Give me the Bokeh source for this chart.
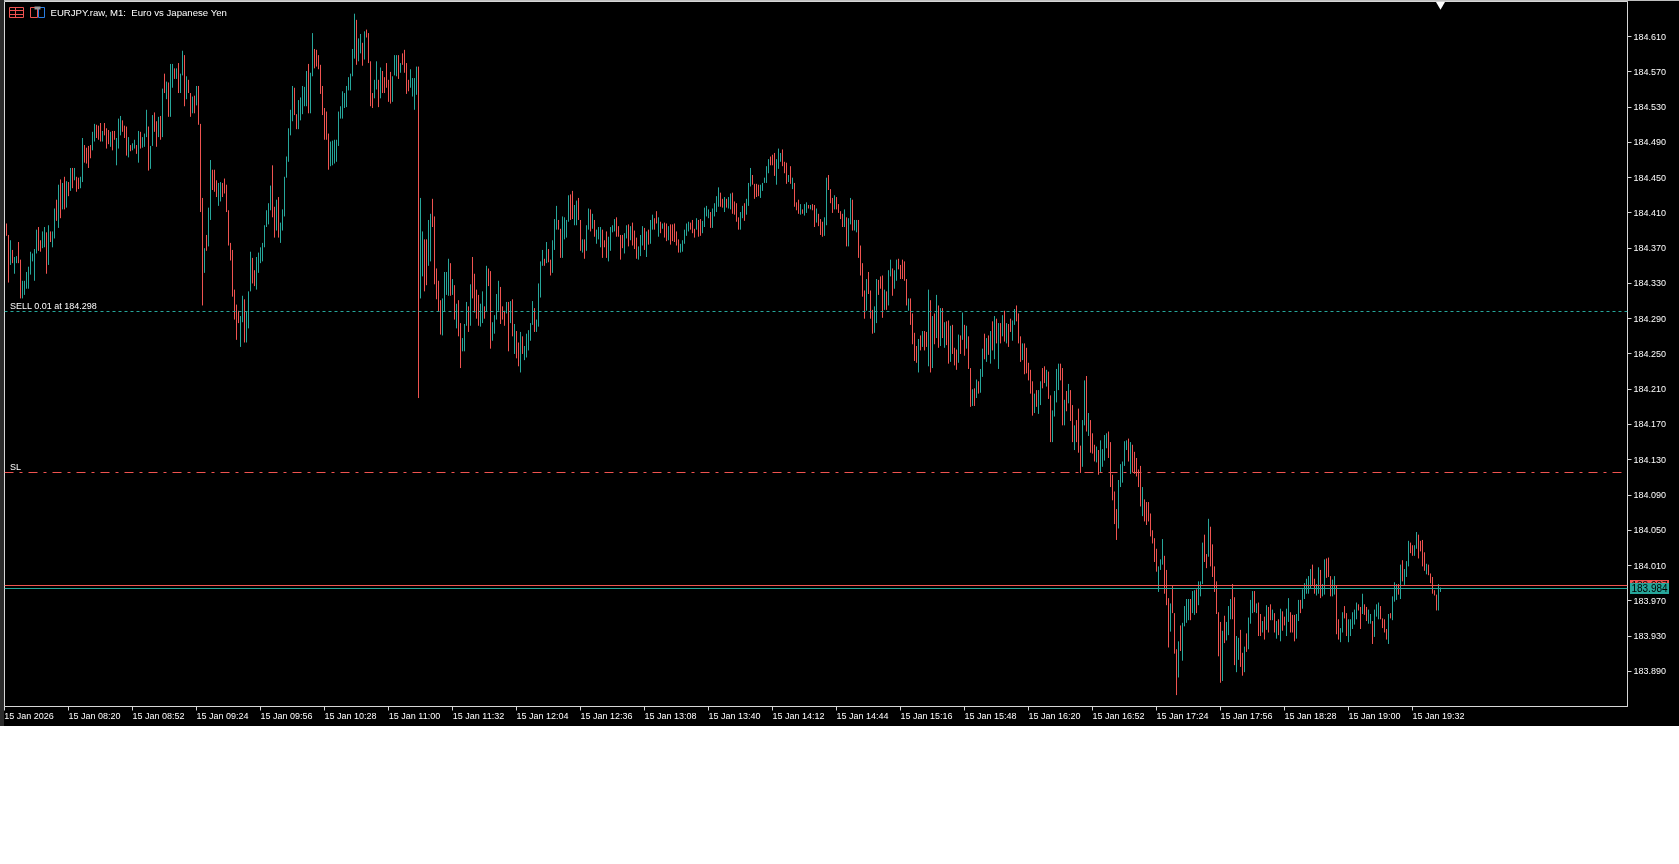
import math
from bokeh.plotting import figure
from bokeh.layouts import column
from bokeh.models import Range1d, FixedTicker, Label, Span, LinearAxis, Div
from bokeh.embed import file_html
from bokeh.resources import INLINE

# values are points above 183.000 (1 point = 0.001)
high_pts = [
1398,1385,1379,1368,1360,1361,1377,1357,1333,1333,
1343,1349,1366,1364,1369,1391,1394,1379,1389,1394,
1388,1396,1389,1389,1415,1425,1442,1448,1444,1451,
1446,1445,1461,1461,1461,1451,1450,1451,1495,1487,
1484,1486,1487,1502,1511,1510,1509,1512,1503,1512,
1506,1504,1502,1503,1503,1495,1517,1520,1515,1509,
1508,1496,1487,1489,1493,1487,1503,1502,1496,1500,
1527,1508,1486,1521,1524,1514,1519,1520,1551,1568,
1559,1558,1579,1579,1574,1574,1580,1568,1594,1589,
1565,1561,1546,1542,1543,1554,1554,1511,1427,1370,
1385,1416,1470,1459,1459,1447,1444,1445,1444,1449,
1442,1413,1376,1368,1323,1306,1299,1293,1316,1312,
1298,1321,1366,1359,1345,1360,1365,1371,1376,1396,
1413,1421,1441,1464,1417,1425,1428,1399,1414,1451,
1474,1506,1527,1554,1552,1522,1538,1541,1554,1553,
1571,1579,1569,1614,1596,1595,1589,1578,1554,1529,
1525,1500,1491,1492,1493,1493,1525,1531,1548,1546,
1554,1564,1568,1596,1636,1629,1608,1613,1603,1616,
1618,1614,1582,1546,1561,1582,1561,1575,1571,1564,
1580,1561,1570,1565,1589,1589,1589,1580,1591,1595,
1580,1561,1573,1563,1563,1576,1576,1427,1389,1380,
1380,1402,1409,1426,1406,1347,1333,1311,1313,1343,
1343,1358,1353,1335,1328,1307,1311,1285,1268,1284,
1309,1304,1329,1360,1341,1323,1317,1307,1321,1304,
1350,1347,1344,1286,1294,1318,1333,1326,1304,1299,
1309,1309,1310,1312,1284,1276,1263,1275,1270,1259,
1273,1277,1285,1310,1302,1289,1330,1355,1368,1358,
1377,1369,1357,1379,1403,1418,1402,1392,1406,1405,
1402,1430,1431,1435,1419,1424,1427,1402,1380,1380,
1396,1415,1414,1409,1402,1391,1394,1394,1391,1379,
1389,1383,1394,1396,1403,1405,1395,1385,1385,1387,
1396,1397,1395,1399,1390,1382,1372,1385,1395,1393,
1389,1391,1402,1408,1404,1412,1405,1400,1398,1399,
1398,1395,1397,1397,1398,1389,1380,1375,1379,1391,
1398,1400,1399,1402,1392,1404,1402,1403,1401,1416,
1418,1414,1411,1415,1421,1429,1439,1433,1426,1428,
1426,1428,1432,1433,1423,1421,1405,1411,1418,1421,
1426,1444,1461,1453,1443,1443,1442,1442,1444,1450,
1463,1471,1474,1476,1478,1471,1483,1478,1482,1468,
1467,1453,1463,1450,1444,1422,1425,1420,1414,1420,
1422,1419,1419,1420,1419,1415,1409,1403,1400,1405,
1450,1453,1437,1427,1430,1428,1420,1412,1409,1414,
1405,1404,1427,1425,1402,1402,1402,1373,1353,1322,
1335,1343,1322,1300,1304,1335,1334,1338,1339,1323,
1321,1345,1357,1347,1345,1357,1358,1351,1357,1355,
1335,1313,1313,1296,1274,1259,1267,1271,1276,1276,
1275,1323,1311,1293,1296,1317,1305,1302,1302,1286,
1287,1288,1282,1283,1257,1255,1272,1271,1297,1283,
1282,1270,1234,1210,1211,1221,1219,1233,1256,1273,
1268,1271,1276,1287,1293,1290,1285,1285,1294,1299,
1285,1284,1290,1288,1301,1305,1296,1270,1262,1262,
1257,1240,1232,1219,1205,1209,1209,1219,1234,1236,
1232,1230,1203,1186,1208,1233,1239,1239,1234,1198,
1208,1216,1209,1192,1169,1175,1188,1146,1175,1220,
1225,1183,1175,1160,1147,1145,1141,1152,1142,1158,
1160,1162,1150,1113,1094,1074,1107,1125,1128,1151,
1152,1154,1150,1147,1139,1132,1119,1123,1099,1085,
1082,1082,1069,1050,1041,1029,1009,1017,1040,1021,
1005,973,967,987,956,915,924,942,945,964,
972,972,972,981,982,983,992,992,1036,1045,
1023,1063,1054,1034,1009,992,957,946,936,953,
946,964,972,989,974,930,928,937,911,918,
933,951,971,981,981,967,968,955,947,952,
965,963,966,960,956,947,949,961,958,952,
961,973,957,954,954,955,971,971,983,990,
995,998,1006,1011,995,989,1008,1005,989,1017,
1018,1019,998,994,998,987,949,939,957,964,
956,949,949,957,960,968,966,963,978,966,
963,960,955,947,960,966,968,964,950,949,
938,955,956,975,991,989,989,1011,1016,1006,
1015,1038,1036,1033,1033,1048,1045,1038,1039,1025,
1012,1011,1001,997,982,977,989,985,
]
low_pts = [
1384,1331,1351,1353,1341,1353,1353,1313,1313,1317,
1324,1324,1340,1355,1333,1364,1367,1366,1370,1371,
1341,1351,1377,1371,1381,1401,1393,1404,1414,1414,
1416,1429,1435,1438,1447,1434,1437,1438,1445,1467,
1466,1461,1472,1481,1491,1495,1493,1491,1491,1498,
1483,1488,1485,1481,1493,1464,1483,1498,1502,1495,
1475,1473,1480,1481,1483,1477,1467,1483,1484,1485,
1496,1458,1460,1486,1502,1485,1496,1493,1496,1546,
1539,1519,1519,1552,1562,1562,1546,1546,1566,1531,
1539,1546,1519,1523,1523,1532,1510,1411,1305,1342,
1367,1372,1402,1436,1434,1428,1418,1423,1428,1432,
1411,1373,1356,1315,1289,1266,1285,1258,1286,1263,
1263,1279,1321,1330,1327,1323,1342,1353,1355,1371,
1394,1397,1413,1405,1382,1390,1382,1376,1390,1406,
1450,1468,1498,1514,1521,1505,1505,1515,1522,1531,
1531,1523,1523,1565,1574,1576,1573,1545,1521,1493,
1493,1459,1463,1464,1466,1468,1486,1517,1517,1529,
1530,1549,1549,1565,1585,1578,1582,1591,1577,1584,
1609,1580,1531,1529,1540,1550,1530,1540,1546,1546,
1552,1536,1534,1536,1566,1565,1562,1569,1578,1569,
1545,1548,1552,1542,1527,1544,1200,1313,1338,1321,
1328,1350,1355,1394,1329,1312,1298,1272,1271,1298,
1317,1316,1316,1317,1289,1279,1270,1234,1253,1253,
1282,1275,1282,1313,1297,1290,1282,1281,1285,1290,
1298,1327,1256,1265,1273,1289,1299,1284,1289,1282,
1296,1253,1285,1270,1250,1245,1236,1229,1250,1243,
1246,1254,1265,1283,1275,1275,1281,1314,1350,1350,
1353,1354,1339,1342,1368,1391,1391,1359,1359,1380,
1382,1400,1402,1403,1396,1396,1402,1367,1365,1358,
1367,1391,1389,1392,1383,1375,1380,1371,1359,1371,
1359,1355,1367,1388,1389,1383,1383,1357,1370,1364,
1381,1372,1379,1373,1369,1358,1357,1361,1373,1368,
1360,1374,1375,1391,1391,1398,1383,1387,1392,1382,
1378,1379,1374,1378,1377,1373,1365,1365,1366,1375,
1384,1389,1391,1387,1382,1391,1383,1384,1387,1394,
1406,1404,1393,1393,1406,1411,1417,1417,1416,1411,
1416,1415,1414,1409,1408,1400,1391,1391,1404,1401,
1408,1418,1440,1442,1426,1428,1429,1427,1435,1444,
1444,1455,1464,1464,1452,1442,1460,1468,1463,1455,
1443,1445,1443,1437,1417,1413,1409,1408,1409,1407,
1410,1415,1414,1413,1394,1399,1395,1385,1383,1384,
1396,1436,1421,1410,1414,1414,1410,1403,1394,1394,
1372,1372,1397,1390,1390,1388,1359,1339,1315,1290,
1299,1318,1290,1273,1274,1285,1317,1324,1291,1300,
1300,1305,1338,1316,1324,1333,1346,1335,1335,1333,
1305,1299,1283,1261,1242,1240,1229,1254,1258,1254,
1258,1236,1229,1234,1261,1268,1257,1259,1268,1257,
1260,1239,1241,1250,1237,1232,1240,1250,1266,1248,
1256,1233,1190,1191,1191,1200,1205,1206,1224,1244,
1241,1249,1239,1254,1244,1262,1233,1262,1270,1264,
1262,1258,1275,1265,1283,1287,1262,1241,1243,1227,
1228,1220,1205,1180,1183,1190,1182,1192,1211,1217,
1213,1199,1150,1150,1179,1195,1209,1220,1169,1169,
1185,1194,1174,1150,1141,1150,1138,1115,1122,1169,
1162,1157,1138,1137,1128,1127,1113,1115,1122,1129,
1143,1132,1099,1084,1057,1039,1052,1099,1104,1123,
1141,1128,1114,1116,1114,1111,1099,1077,1066,1060,
1056,1060,1043,1035,1014,1003,980,1005,1011,978,
965,917,935,956,910,863,883,913,902,941,
945,948,948,956,954,956,965,975,989,1014,
1007,1020,1009,997,980,955,907,877,879,922,
925,931,949,949,897,889,903,895,885,889,
912,915,944,956,957,956,930,930,934,926,
937,934,948,948,934,927,931,924,936,942,
930,946,934,934,924,927,947,956,961,972,
978,978,984,988,978,976,978,973,975,977,
996,997,975,975,977,932,926,923,934,950,
930,923,930,938,943,949,959,938,955,954,
947,944,944,921,929,952,949,949,939,934,
926,921,950,948,969,971,977,972,992,988,
997,1009,1024,1021,1021,1029,1018,1026,1009,1004,
1000,999,990,978,976,959,959,980,
]
directions = """
d d u d u u d d u u
u u u u u u d d u u
d u d u u d u d u d
u d u d u d d u u d
d d d u u d d d u d
d d u d d u u u d d
d u d u u d u d u u
u d u u d d u d u d
u d u u d u d u u d
u d d u d u d d d u
d u u d d d u u d d
d d d d d d d u u d
u u u d d u u u u u
u u u d d u d u u u
u u u u d d u u u u
u d u u d d d d d d
d d u u u u u u u u
u u u u u d u u d u
d d d d u u d u d d
d d d u u u d u d d
d d u u u u d u u d
d u u d d d d d u u
u u d u d u d d u u
u d u d d d d u u d
u d d u u u u d d d
u d u d u d d u d u
u u u u d u u u u d
u d d u u u d d u u
u u d d u u d d u d
u u d u d u u u d d
d u u u u d d d d u
u d u d d d u u u d
u d u u d d u d u d
d u d d d d d u u u
u u d d d u d d u u
u u d u u u u d d u
d u u d d d d u u d
u u u d d d d u u u
u u d d d u u u d d
d u d u d d d u d u
u d u d d u d d d u
u d d d u d d d d u
d u u d u u d d d d
u d d d u u d d d u
d u u d u u d d d d
d u d d d d u d u d
d u d u d u d u d u
d d u d d d u d u d
u d d u d u d u u d
u d u d u d u d u d
u d d u u d d d u d
d d d d u d u u d d
u d d u u u u d d u
d u d d u d d d u u
d u d d d u d u u u
u d d d d d u u u u
u d u d d d d d u d
d d d d d d u u u d
d d u d d d u d u u
u u d u u d u u u d
d u d d d d d d u d
u u u d d u u d d u
d u u u d u d d u d
u d d u d u d u d d
u u d d d u u d u u
u u u d d u u d u u
d d d u u d d u u d
d u u u u u d d u d
d u u d u u u d d d
d u d u u u d u d u
u u d d u u d d d d
u d d d d d u u
""".split()

price_ticks = [183.89, 183.93, 183.97, 184.01, 184.05, 184.09, 184.13, 184.17, 184.21, 184.25,
               184.29, 184.33, 184.37, 184.41, 184.45, 184.49, 184.53, 184.57, 184.61]
time_labels = ["15 Jan 2026", "15 Jan 08:20", "15 Jan 08:52", "15 Jan 09:24", "15 Jan 09:56", "15 Jan 10:28",
               "15 Jan 11:00", "15 Jan 11:32", "15 Jan 12:04", "15 Jan 12:36", "15 Jan 13:08", "15 Jan 13:40",
               "15 Jan 14:12", "15 Jan 14:44", "15 Jan 15:16", "15 Jan 15:48", "15 Jan 16:20", "15 Jan 16:52",
               "15 Jan 17:24", "15 Jan 17:56", "15 Jan 18:28", "15 Jan 19:00", "15 Jan 19:32"]
sell_price = 184.298
sl_price = 184.116
ask_price = 183.987
bid_price = 183.984
title_text = "EURJPY.raw, M1:\u00a0\u00a0Euro vs Japanese Yen"
sell_text = "SELL 0.01 at 184.298"
sl_text = "SL"

print(len(high_pts), len(low_pts), len(directions))
TEAL, RED, FG, LINE = "#26a69a", "#ef5350", "#ffffff", "#d6d6d6"
FONT = "Liberation Sans"
FS = "9px"
W, H, FL, FR, FT, FB = 1679, 726, 4, 1627, 1, 706
PX_PER_BAR = 2.0
PX_PER_PRICE = 881.5
x0 = -1.0
xd = lambda px: x0 + (px - FL) / PX_PER_BAR
yd = lambda py: 183.89 + (670.8 - py) / PX_PER_PRICE
row_of = lambda price: math.floor(671.3 - (price - 183.89) * PX_PER_PRICE)
snap = lambda price: yd(row_of(price))

p = figure(width=W, height=H, output_backend="svg", toolbar_location=None,
           x_range=Range1d(x0, xd(FR)), y_range=Range1d(yd(FB), yd(FT)),
           min_border_left=FL, min_border_right=W - FR, min_border_top=FT, min_border_bottom=H - FB,
           background_fill_color="#000000", border_fill_color="#000000",
           outline_line_color=LINE, x_axis_location="below", y_axis_location="right")
p.styles = {"position": "fixed", "left": "0px", "top": "0px"}
p.grid.visible = False

for ax in (p.xaxis[0], p.yaxis[0]):
    ax.axis_line_color = LINE
    ax.major_tick_line_color = LINE
    ax.minor_tick_line_color = None
    ax.major_tick_in = 0
    ax.major_tick_out = 4
    ax.major_label_text_color = FG
    ax.major_label_text_font = FONT
    ax.major_label_text_font_size = FS
    ax.major_label_standoff = 2

# tick marks on one axis, the left-aligned date labels on a second one beneath it
tick_x = [x0 + 32 * k for k in range(len(time_labels))]
p.xaxis[0].ticker = FixedTicker(ticks=tick_x)
p.xaxis[0].major_label_overrides = {t: "" for t in tick_x}
p.xaxis[0].major_label_standoff = 0

half_widths = [12.25] + [13.0] * (len(time_labels) - 1)
label_x = [t + h for t, h in zip(tick_x, half_widths)]
time_axis = LinearAxis(ticker=FixedTicker(ticks=label_x),
                       major_label_overrides=dict(zip(label_x, time_labels)),
                       axis_line_color=None, major_tick_line_color=None, minor_tick_line_color=None,
                       major_tick_in=0, major_tick_out=0, major_label_standoff=0,
                       major_label_text_color=FG, major_label_text_font=FONT, major_label_text_font_size=FS)
p.add_layout(time_axis, "below")

p.yaxis[0].ticker = FixedTicker(ticks=price_ticks)
p.yaxis[0].major_label_overrides = {t: f"{t:.3f}" for t in price_ticks}

xs = list(range(len(high_pts)))
hi = [183 + v / 1000 for v in high_pts]
lo = [183 + v / 1000 for v in low_pts]
colors = [TEAL if d == "u" else RED for d in directions]
p.segment(xs, lo, xs, hi, line_color=colors, line_width=1)

p.add_layout(Span(location=snap(sell_price), dimension="width", line_color=TEAL, line_width=1, line_dash="3 3"))
p.add_layout(Span(location=snap(sl_price), dimension="width", line_color=RED, line_width=1, line_dash="9 6 3 6"))
p.add_layout(Span(location=snap(ask_price), dimension="width", line_color=RED, line_width=1))
p.add_layout(Span(location=snap(bid_price), dimension="width", line_color=TEAL, line_width=1))

def lab(text, px, py, size=FS):
    p.add_layout(Label(x=xd(px), y=yd(py), text=text, text_color=FG, text_font=FONT,
                       text_font_size=size, text_baseline="middle"))

lab(title_text, 50, 11.5, size="9.6px")
lab(sell_text, 9.5, 305)
lab(sl_text, 9.5, 466)

# position marker on the top edge
p.scatter([717], [yd(4)], marker="inverted_triangle", size=9, color="#ffffff", line_color=None)

# toolbar icons in the top-left corner
for a, b, c in [(9, 23, RED), (30, 37, RED), (38, 44, "#2a7de1")]:
    p.quad(left=[xd(a)], right=[xd(b)], top=[yd(7)], bottom=[yd(17)], fill_color=None, line_color=c)
p.segment([xd(9), xd(9), xd(15)], [yd(10), yd(14), yd(7)], [xd(23), xd(23), xd(15)], [yd(10), yd(14), yd(17)], line_color=RED)
p.quad(left=[xd(34)], right=[xd(40)], top=[yd(6)], bottom=[yd(9)], fill_color="#9a9a9a", line_color=None)

def tag(text, left, top, w, h, bg):
    return Div(text=text, width=w, height=h, styles={
        "position": "fixed", "left": f"{left}px", "top": f"{top}px", "width": f"{w}px", "height": f"{h}px",
        "background": bg, "color": "#000000", "font-family": FONT, "font-size": "10px",
        "line-height": f"{h}px", "text-align": "center", "overflow": "hidden", "margin": "0", "padding": "0"})

stripe = tag("", 0, 0, 4, H, "#2b2b2b")
ask_tag = tag(f"{ask_price:.3f}", 1630, 580, 39, 11, RED)
bid_tag = tag(f"{bid_price:.3f}", 1630, 583, 39, 11, TEAL)

layout = column(p, stripe, ask_tag, bid_tag)
open("out.html", "w").write(file_html(layout, INLINE))
